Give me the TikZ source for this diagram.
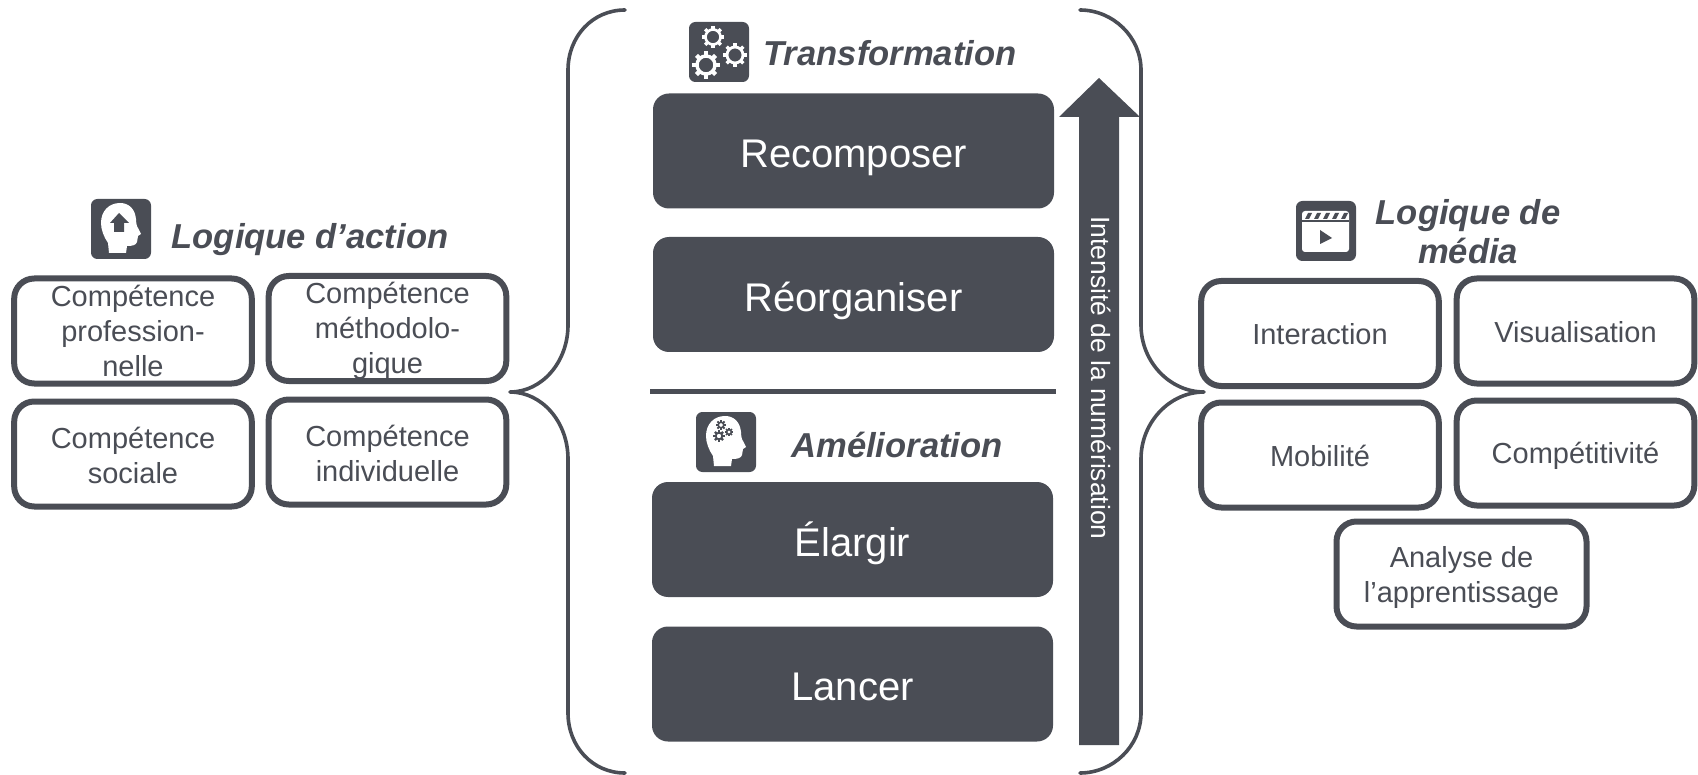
\documentclass[tikz,border=0pt]{standalone}
\usepackage{fontspec}
\setmainfont{Liberation Sans}
\definecolor{ink}{HTML}{4A4D55}
\newcommand{\iconbox}{\fill[ink,rounded corners=3.2pt] (0,0) rectangle (60,60);}
\newcommand{\headshape}{\fill[white] (18,54) -- (17,44) .. controls (13,38) and (10,31) .. (10,24) .. controls (10,12) and (18,4) .. (29,4) .. controls (38,4) and (44,10) .. (45,20) .. controls (45,24) and (46,28) .. (47,29) -- (50,35) -- (47,37) -- (46,43) .. controls (45,46) and (42,47) .. (36,47) -- (35,54) -- cycle;}
\newcommand{\gearmark}[5]{%
  \draw[#4,line width=#5pt] (#1,#2) circle (#3);
  \foreach \a in {0,45,...,315}{
    \draw[#4,line width=#5*1.25pt] ({#1+#3*cos(\a)},{#2+#3*sin(\a)}) -- ({#1+(#3+1.35*#5*2)*cos(\a)},{#2+(#3+1.35*#5*2)*sin(\a)});
  }}
\begin{document}
\begin{tikzpicture}[x=0.5pt,y=-0.5pt,
  darkbox/.style={fill=ink,rounded corners=8pt,minimum width=200.5pt,minimum height=57.5pt,text=white,font=\fontsize{20}{24}\selectfont,inner sep=0pt,text height=19pt,text depth=2.4pt},
  outbox/.style={draw=ink,line width=3pt,rounded corners=10pt,fill=none,minimum width=118.8pt,minimum height=52.5pt,inner sep=0pt},
  boxtext/.style={text=ink,align=center,font=\fontsize{14.5}{17.5}\selectfont,inner sep=0pt},
  titletext/.style={text=ink,align=center,font=\fontsize{17.3}{19.5}\selectfont\bfseries\itshape,inner sep=0pt},
  bracket/.style={draw=ink,line width=1.8pt,line cap=round,line join=round}]
\useasboundingbox (0,0) rectangle (1698,775);

% central boxes
\node[darkbox] (recomposer) at (853.5,151) {Recomposer};
\node[darkbox] (reorganiser) at (853.5,294.5) {Réorganiser};
\node[darkbox] (elargir) at (852.5,539.5) {Élargir};
\node[darkbox] (lancer) at (852.5,684) {Lancer};
\coordinate (sepl) at (650,391);
\coordinate (sepr) at (1056,391);
\draw[ink,line width=2.5pt] (sepl) -- (sepr);

% arrow
\fill[ink] (1079,745) -- (1079,117) -- (1059,117) -- (1099,78) -- (1140,117) -- (1119,117) -- (1119,745) -- cycle;
\node[rotate=-90,text=white,font=\fontsize{13.2}{16}\selectfont,inner sep=0pt] (intensite) at (1101,378) {Intensité de la numérisation};

% brackets
\coordinate (ltip) at (510,392);
\coordinate (rtip) at (1204,392);
\draw[bracket] (625,10) .. controls (592,10) and (568,37) .. (568,70) -- (568,325) .. controls (568,362) and (542,392) .. (ltip) .. controls (542,392) and (568,422) .. (568,459) -- (568,713) .. controls (568,746) and (592,773) .. (625,773);
\draw[bracket] (1080,10) .. controls (1113,10) and (1141,37) .. (1141,70) -- (1141,325) .. controls (1141,362) and (1170,392) .. (rtip) .. controls (1170,392) and (1141,422) .. (1141,459) -- (1141,713) .. controls (1141,746) and (1113,773) .. (1080,773);

% titles
\node[titletext] (ttransf) at (890,53) {Transformation};
\node[titletext] (tamelio) at (897,445) {Amélioration};
\node[titletext] (taction) at (310,240) {Logique d’action};
\node[titletext] (tmedia) at (1468,231.5) {Logique de\\média};

% left boxes
\node[outbox,label={[boxtext,yshift=-0.2pt]center:Compétence\\profession-\\nelle}] (c1) at (133,331) {};
\node[outbox,label={[boxtext,yshift=-1.4pt]center:Compétence\\méthodolo-\\gique}] (c2) at (387.5,328.5) {};
\node[outbox,label={[boxtext,yshift=-0.8pt]center:Compétence\\sociale}] (c3) at (133,454) {};
\node[outbox,label={[boxtext,yshift=-0.8pt]center:Compétence\\individuelle}] (c4) at (387.5,452) {};

% right boxes
\node[outbox,label={[boxtext,yshift=-0.3pt]center:Interaction}] (m1) at (1320,333.5) {};
\node[outbox,label={[boxtext,yshift=-0.6pt]center:Visualisation}] (m2) at (1575.5,331) {};
\node[outbox,label={[boxtext,yshift=-0.3pt]center:Mobilité}] (m3) at (1320,455) {};
\node[outbox,label={[boxtext,yshift=-1.3pt]center:Compétitivité}] (m4) at (1575.5,453) {};
\node[outbox,minimum width=125pt,label={[boxtext,yshift=-2pt]center:Analyse de\\l’apprentissage}] (m5) at (1461.5,574) {};

% icon: gears
\begin{scope}[shift={(689,22)}]
  \iconbox
  \gearmark{24}{15}{7.5}{white}{1.3}
  \gearmark{46}{33}{8}{white}{1.4}
  \gearmark{17}{43}{9}{white}{1.7}
\end{scope}
% icon: head with arrow
\begin{scope}[shift={(91,199)}]
  \iconbox
  \headshape
  \fill[ink] (28,14) -- (38,24) -- (33,24) -- (33,33) -- (23,33) -- (23,24) -- (19,24) -- cycle;
\end{scope}
% icon: head with gears
\begin{scope}[shift={(696,412)}]
  \iconbox
  \headshape
  \gearmark{25}{13}{2.8}{ink}{0.8}
  \gearmark{33}{20}{2.3}{ink}{0.7}
  \gearmark{23}{24}{3.3}{ink}{0.9}
\end{scope}
% icon: clapperboard
\begin{scope}[shift={(1296,201)}]
  \iconbox
  \fill[white,rounded corners=1.5pt] (6,10) rectangle (53,51);
  \fill[ink] (6,19) rectangle (53,21);
  \foreach \s in {9,18,27,36,45}{
    \fill[ink] (\s,18) -- (\s+3,12) -- (\s+7,12) -- (\s+4,18) -- cycle;
  }
  \fill[ink] (24,29) -- (36,37) -- (24,43) -- cycle;
\end{scope}
\end{tikzpicture}
\end{document}
